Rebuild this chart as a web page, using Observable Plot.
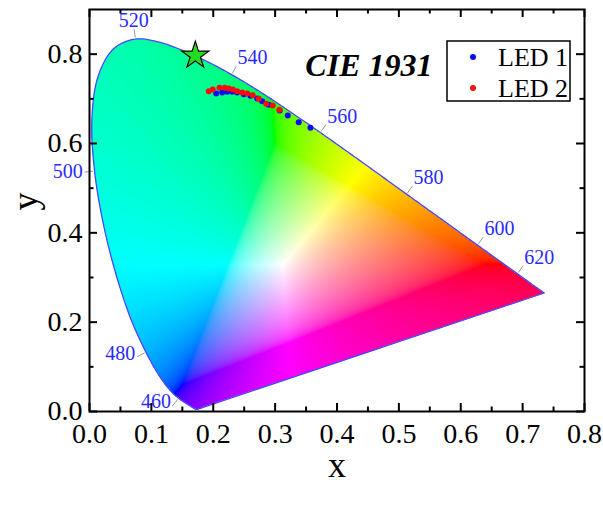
<!DOCTYPE html>
<html>
<head>
<meta charset="utf-8">
<script src="https://cdn.jsdelivr.net/npm/d3@7"></script>
<script src="https://cdn.jsdelivr.net/npm/@observablehq/plot@0.6"></script>
<style>
  html, body { margin: 0; padding: 0; background: #fff; }
</style>
</head>
<body>
<div id="chart"></div>
<script>
// CIE 1931 2° spectral locus, 380–700 nm in 5 nm steps
const wavelengths = d3.range(380, 701, 5);
const locusX = [0.1741, 0.1740, 0.1738, 0.1736, 0.1733, 0.1730, 0.1726, 0.1721, 0.1714, 0.1703,
  0.1689, 0.1669, 0.1644, 0.1611, 0.1566, 0.1510, 0.1440, 0.1355, 0.1241, 0.1096,
  0.0913, 0.0687, 0.0454, 0.0235, 0.0082, 0.0039, 0.0139, 0.0389, 0.0743, 0.1142,
  0.1547, 0.1929, 0.2296, 0.2658, 0.3016, 0.3373, 0.3731, 0.4087, 0.4441, 0.4788,
  0.5125, 0.5448, 0.5752, 0.6029, 0.6270, 0.6482, 0.6658, 0.6801, 0.6915, 0.7006,
  0.7079, 0.7140, 0.7190, 0.7230, 0.7260, 0.7283, 0.7300, 0.7311, 0.7320, 0.7327,
  0.7334, 0.7340, 0.7344, 0.7346, 0.7347];
const locusY = [0.0050, 0.0050, 0.0049, 0.0049, 0.0048, 0.0048, 0.0048, 0.0048, 0.0051, 0.0058,
  0.0069, 0.0086, 0.0109, 0.0138, 0.0177, 0.0227, 0.0297, 0.0399, 0.0578, 0.0868,
  0.1327, 0.2007, 0.2950, 0.4127, 0.5384, 0.6548, 0.7502, 0.8120, 0.8338, 0.8262,
  0.8059, 0.7816, 0.7543, 0.7243, 0.6923, 0.6589, 0.6245, 0.5896, 0.5547, 0.5202,
  0.4866, 0.4544, 0.4242, 0.3965, 0.3725, 0.3514, 0.3340, 0.3197, 0.3083, 0.2993,
  0.2920, 0.2859, 0.2809, 0.2770, 0.2740, 0.2717, 0.2700, 0.2689, 0.2680, 0.2673,
  0.2666, 0.2660, 0.2656, 0.2654, 0.2653];

// wavelengths annotated along the locus
const labeledWavelengths = [460, 480, 500, 520, 540, 560, 580, 600, 620];

// measured chromaticity coordinates
const led1X = [0.2047, 0.2144, 0.2225, 0.2305, 0.2386, 0.2493, 0.2601, 0.2709, 0.2790, 0.2897, 0.3074, 0.3204, 0.3381, 0.3570];
const led1Y = [0.7119, 0.7141, 0.7157, 0.7157, 0.7141, 0.7103, 0.7067, 0.7007, 0.6947, 0.6866, 0.6738, 0.6626, 0.6476, 0.6351];
const led2X = [0.1927, 0.1992, 0.2100, 0.2186, 0.2250, 0.2315, 0.2386, 0.2467, 0.2548, 0.2638, 0.2735, 0.2855, 0.2961, 0.3069];
const led2Y = [0.7170, 0.7208, 0.7247, 0.7247, 0.7231, 0.7208, 0.7170, 0.7141, 0.7119, 0.7081, 0.7000, 0.6888, 0.6850, 0.6754];

// reference point (star)
const starPoint = {x: 0.171, y: 0.797};

// axis ticks
const xMajor = [0, 0.1, 0.2, 0.3, 0.4, 0.5, 0.6, 0.7, 0.8];
const xMinor = [0.05, 0.15, 0.25, 0.35, 0.45, 0.55, 0.65, 0.75];
const yMajor = [0, 0.2, 0.4, 0.6, 0.8];
const yMinor = [0.1, 0.3, 0.5, 0.7];

const seriesNames = ["LED 1", "LED 2"];
const seriesColors = ["#0a0aff", "#ff0a0a"];

// ---- layout ----
const W = 603, H = 505;
const mL = 89, mR = 19, mT = 9, mB = 94;
const xDomain = [0, 0.8], yDomain = [0, 0.9];
const innerW = W - mL - mR, innerH = H - mT - mB;
const kx = innerW / (xDomain[1] - xDomain[0]);
const ky = innerH / (yDomain[1] - yDomain[0]);

const locus = wavelengths.map((w, i) => ({w, x: locusX[i], y: locusY[i]}));

// smooth the locus with a Catmull–Rom spline (in screen proportions) and sample it
function smoothLocus(points, steps = 10) {
  const out = [];
  let cx = 0, cy = 0;
  const ctx = {
    moveTo(x, y) { out.push([x, y]); cx = x; cy = y; },
    lineTo(x, y) { out.push([x, y]); cx = x; cy = y; },
    bezierCurveTo(x1, y1, x2, y2, x, y) {
      for (let s = 1; s <= steps; ++s) {
        const t = s / steps, u = 1 - t;
        out.push([
          u * u * u * cx + 3 * u * u * t * x1 + 3 * u * t * t * x2 + t * t * t * x,
          u * u * u * cy + 3 * u * u * t * y1 + 3 * u * t * t * y2 + t * t * t * y
        ]);
      }
      cx = x; cy = y;
    },
    closePath() {}
  };
  d3.line().curve(d3.curveCatmullRom.alpha(0.5)).context(ctx)(points.map(d => [d.x * kx, d.y * ky]));
  return out.map(([x, y]) => [x / kx, y / ky]);
}
const polygon = smoothLocus(locus);
const outline = [...polygon, polygon[0]].map(([x, y]) => ({x, y}));

// xy chromaticity -> display sRGB (desaturated into gamut, max-normalised)
function chromaColor(x, y) {
  if (y <= 0 || !d3.polygonContains(polygon, [x, y])) return null;
  const X = x / y, Y = 1, Z = (1 - x - y) / y;
  let r = 3.2406 * X - 1.5372 * Y - 0.4986 * Z;
  let g = -0.9689 * X + 1.8758 * Y + 0.0415 * Z;
  let b = 0.0557 * X - 0.2040 * Y + 1.0570 * Z;
  const w = -Math.min(0, r, g, b);
  r += w; g += w; b += w;
  const m = Math.max(r, g, b) || 1;
  const enc = v => {
    v /= m;
    v = v <= 0.0031308 ? 12.92 * v : 1.055 * Math.pow(v, 1 / 2.4) - 0.055;
    return Math.round(Math.max(0, Math.min(1, v)) * 255);
  };
  return d3.rgb(enc(r), enc(g), enc(b)).formatHex();
}

// label ticks: outward normal of the locus in screen space
const white = [1 / 3, 1 / 3];
const annotations = labeledWavelengths.map(w => {
  const i = wavelengths.indexOf(w);
  const a = locus[i - 1], b = locus[i + 1], p = locus[i];
  const tx = (b.x - a.x) * kx, ty = -(b.y - a.y) * ky;
  let nx = ty, ny = -tx;
  const len = Math.hypot(nx, ny);
  nx /= len; ny /= len;
  const ox = (p.x - white[0]) * kx, oy = -(p.y - white[1]) * ky;
  if (nx * ox + ny * oy < 0) { nx = -nx; ny = -ny; }
  const at = d => ({x: p.x + nx * d / kx, y: p.y - ny * d / ky});
  const s = at(1.5), e = at(10), t = at(12);
  const left = nx < -0.3;
  return {
    w, x1: s.x, y1: s.y, x2: e.x, y2: e.y,
    tx: t.x, ty: left ? p.y - ny * 4 / ky : t.y,
    textAnchor: nx > 0.3 ? "start" : left ? "end" : "middle",
    lineAnchor: left ? "middle" : (ny < 0 ? "bottom" : "top")
  };
});

const led1 = led1X.map((x, i) => ({x, y: led1Y[i]}));
const led2 = led2X.map((x, i) => ({x, y: led2Y[i]}));

const serif = "'Liberation Serif', 'Times New Roman', serif";
const blueText = "#2a2aff";

// legend box in the upper-right corner of the frame
function legend() {
  const g = d3.create("svg:g").attr("font-family", serif).attr("text-anchor", "start");
  const x0 = W - mR - 137, y0 = mT + 32, bw = 123, bh = 60;
  g.append("rect").attr("x", x0).attr("y", y0).attr("width", bw).attr("height", bh)
    .attr("fill", "white").attr("stroke", "black").attr("stroke-width", 1.5);
  seriesNames.forEach((name, i) => {
    const cy = y0 + 16 + i * 31;
    g.append("circle").attr("cx", x0 + 26).attr("cy", cy).attr("r", 3).attr("fill", seriesColors[i]);
    g.append("text").attr("x", x0 + 51).attr("y", cy).attr("dy", "0.35em")
      .attr("font-size", 26).attr("fill", "black").text(name);
  });
  return g.node();
}

const chart = Plot.plot({
  width: W,
  height: H,
  marginLeft: mL,
  marginRight: mR,
  marginTop: mT,
  marginBottom: mB,
  style: {fontFamily: serif, background: "white"},
  x: {domain: xDomain},
  y: {domain: yDomain},
  marks: [
    Plot.raster({fill: chromaColor, x1: 0, x2: 0.8, y1: 0, y2: 0.9, pixelSize: 1, imageRendering: "auto"}),
    Plot.line(outline, {x: "x", y: "y", stroke: "#4646ff", strokeWidth: 1.3}),
    Plot.link(annotations, {x1: "x1", y1: "y1", x2: "x2", y2: "y2", stroke: "#9a9a9a", strokeWidth: 1}),
    ...annotations.map(a => Plot.text([a], {
      x: "tx", y: "ty", text: d => String(d.w),
      textAnchor: a.textAnchor, lineAnchor: a.lineAnchor,
      fill: blueText, fontSize: 20
    })),
    Plot.dot(led1, {x: "x", y: "y", r: 3, fill: seriesColors[0]}),
    Plot.dot(led2, {x: "x", y: "y", r: 3, fill: seriesColors[1]}),
    Plot.dot([starPoint], {x: "x", y: "y", symbol: "star", r: 8.5, fill: "#22dd22", stroke: "black", strokeWidth: 1.2}),
    Plot.text(["CIE 1931"], {
      frameAnchor: "top-right", dx: -152, dy: 56, textAnchor: "end", lineAnchor: "middle",
      fontSize: 32, fontWeight: "bold", fontStyle: "italic", fill: "black"
    }),
    legend,
    // inward ticks on all four sides
    Plot.ruleX(xMajor, {stroke: "black", strokeWidth: 2, insetTop: innerH - 8}),
    Plot.ruleX(xMajor, {stroke: "black", strokeWidth: 2, insetBottom: innerH - 8}),
    Plot.ruleX(xMinor, {stroke: "black", strokeWidth: 2, insetTop: innerH - 4.5}),
    Plot.ruleX(xMinor, {stroke: "black", strokeWidth: 2, insetBottom: innerH - 4.5}),
    Plot.ruleY(yMajor, {stroke: "black", strokeWidth: 2, insetRight: innerW - 8}),
    Plot.ruleY(yMajor, {stroke: "black", strokeWidth: 2, insetLeft: innerW - 8}),
    Plot.ruleY(yMinor, {stroke: "black", strokeWidth: 2, insetRight: innerW - 4.5}),
    Plot.ruleY(yMinor, {stroke: "black", strokeWidth: 2, insetLeft: innerW - 4.5}),
    Plot.frame({stroke: "black", strokeWidth: 2}),
    Plot.axisX(xMajor, {tickSize: 0, tickPadding: 12, fontSize: 28, tickFormat: d3.format(".1f"), label: null}),
    Plot.axisY(yMajor, {tickSize: 0, tickPadding: 7, fontSize: 28, tickFormat: d3.format(".1f"), label: null}),
    Plot.text(["x"], {frameAnchor: "bottom", dy: 54, lineAnchor: "middle", fontSize: 36, fill: "black"}),
    Plot.text(["y"], {frameAnchor: "left", dx: -64, rotate: -90, lineAnchor: "middle", fontSize: 36, fill: "black"})
  ]
});

document.getElementById("chart").appendChild(chart);
</script>
</body>
</html>
